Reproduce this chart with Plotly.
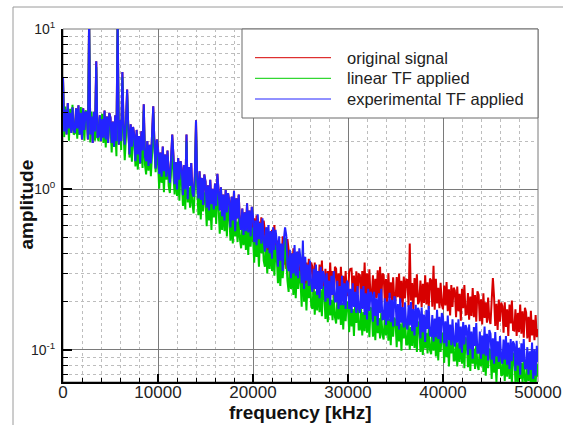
import plotly.graph_objects as go

# ---------------- data ----------------
freq_step = 125
frequency_khz = list(range(0, 50001, freq_step))  # 401 sample frequencies

experimental_tf = [
    5.0, 2.3, 3.15, 2.2, 3.45, 2.4, 3.0, 2.25, 3.25, 2.35,
    2.25, 3.2, 2.4, 3.35, 2.2, 3.0, 2.05, 3.2, 2.35, 3.05,
    3.0, 2.05, 12.0, 2.2, 2.85, 1.95, 3.05, 2.3, 6.3, 2.1,
    2.15, 2.9, 2.0, 2.75, 2.1, 3.1, 2.05, 2.85, 1.95, 3.0,
    2.8, 1.95, 2.65, 1.85, 2.9, 2.0, 12.0, 1.9, 2.7, 2.0,
    5.4, 2.5, 1.9, 2.65, 4.2, 2.4, 1.65, 2.55, 1.85, 2.45,
    2.2, 1.5, 2.35, 1.65, 2.15, 1.45, 2.3, 1.75, 3.4, 1.6,
    1.5, 2.0, 1.4, 1.9, 1.45, 2.2, 3.3, 1.95, 1.35, 2.05,
    1.8, 1.25, 1.7, 1.2, 1.85, 1.3, 1.65, 1.2, 1.75, 1.27,
    1.1, 1.55, 2.2, 1.62, 1.08, 1.48, 1.0, 1.57, 1.15, 1.5,
    1.35, 0.92, 1.42, 1.0, 2.2, 0.87, 1.38, 1.05, 1.46, 0.95,
    0.9, 1.21, 2.7, 1.15, 0.88, 1.3, 0.86, 1.18, 0.8, 1.24,
    1.12, 0.77, 1.06, 0.74, 1.15, 0.81, 1.01, 0.75, 1.09, 0.79,
    1.25, 0.98, 0.74, 1.03, 0.68, 0.93, 0.64, 0.99, 0.72, 0.95,
    0.85, 0.58, 0.9, 0.64, 0.98, 0.55, 0.88, 0.66, 0.93, 0.61,
    0.56, 0.76, 0.52, 0.72, 0.55, 0.82, 0.54, 0.74, 0.51, 0.78,
    0.68, 0.47, 0.64, 0.45, 0.7, 0.49, 0.62, 0.46, 0.66, 0.48,
    0.41, 0.58, 0.43, 0.6, 0.4, 0.55, 0.37, 0.58, 0.42, 0.56,
    0.48, 0.33, 0.51, 0.36, 0.46, 0.31, 0.49, 0.58, 0.52, 0.34,
    0.31, 0.42, 0.28, 0.4, 0.3, 0.45, 0.29, 0.41, 0.28, 0.43,
    0.37, 0.26, 0.48, 0.24, 0.38, 0.27, 0.34, 0.25, 0.36, 0.26,
    0.23, 0.32, 0.24, 0.34, 0.22, 0.31, 0.21, 0.33, 0.24, 0.31,
    0.29, 0.2, 0.3, 0.21, 0.27, 0.19, 0.29, 0.22, 0.31, 0.2,
    0.2, 0.27, 0.18, 0.25, 0.19, 0.29, 0.19, 0.26, 0.18, 0.27,
    0.26, 0.18, 0.24, 0.17, 0.26, 0.185, 0.23, 0.17, 0.25, 0.18,
    0.17, 0.24, 0.18, 0.25, 0.165, 0.225, 0.155, 0.24, 0.175, 0.23,
    0.22, 0.15, 0.23, 0.163, 0.21, 0.142, 0.225, 0.17, 0.24, 0.155,
    0.156, 0.21, 0.143, 0.2, 0.152, 0.227, 0.149, 0.205, 0.14, 0.216,
    0.205, 0.141, 0.193, 0.134, 0.21, 0.148, 0.185, 0.138, 0.198, 0.144,
    0.134, 0.19, 0.142, 0.199, 0.131, 0.18, 0.123, 0.191, 0.139, 0.183,
    0.173, 0.118, 0.184, 0.129, 0.166, 0.112, 0.178, 0.135, 0.188, 0.123,
    0.122, 0.165, 0.113, 0.157, 0.12, 0.178, 0.117, 0.161, 0.11, 0.17,
    0.16, 0.11, 0.151, 0.105, 0.164, 0.115, 0.144, 0.107, 0.155, 0.113,
    0.105, 0.148, 0.111, 0.155, 0.102, 0.14, 0.096, 0.149, 0.108, 0.143,
    0.136, 0.093, 0.144, 0.101, 0.13, 0.088, 0.139, 0.106, 0.147, 0.096,
    0.096, 0.13, 0.088, 0.123, 0.094, 0.14, 0.092, 0.126, 0.086, 0.133,
    0.126, 0.087, 0.118, 0.082, 0.129, 0.091, 0.113, 0.084, 0.122, 0.089,
    0.082, 0.116, 0.087, 0.122, 0.081, 0.111, 0.076, 0.117, 0.085, 0.113,
    0.108, 0.074, 0.114, 0.08, 0.103, 0.07, 0.11, 0.084, 0.117, 0.076,
    0.077, 0.104, 0.07, 0.098, 0.075, 0.111, 0.066, 0.101, 0.069, 0.106,
    0.084,
]

linear_tf = [
    4.8, 2.12, 3.29, 2.3, 2.97, 2.01, 3.18, 2.41, 3.37, 2.2,
    2.24, 3.03, 2.07, 2.88, 2.19, 3.26, 2.14, 2.96, 2.01, 3.11,
    2.99, 2.06, 11.0, 1.96, 3.06, 2.16, 2.7, 2.01, 5.8, 2.11,
    2.0, 2.82, 2.12, 2.96, 1.95, 2.68, 1.83, 2.84, 2.07, 2.73,
    2.48, 1.7, 2.63, 1.84, 2.37, 1.61, 11.0, 1.93, 2.69, 1.76,
    5.0, 2.24, 1.52, 2.12, 3.9, 2.41, 1.58, 2.18, 1.49, 2.29,
    2.03, 1.39, 1.91, 1.33, 2.08, 1.46, 1.83, 1.36, 3.1, 1.43,
    1.24, 1.75, 1.31, 1.84, 1.21, 1.66, 3.0, 1.77, 1.28, 1.69,
    1.47, 1.01, 1.56, 1.1, 1.41, 0.96, 1.51, 1.15, 1.6, 1.05,
    0.95, 1.29, 2.0, 1.22, 0.93, 1.38, 0.91, 1.25, 0.85, 1.32,
    1.15, 0.79, 1.08, 0.75, 2.0, 0.83, 1.03, 0.77, 1.11, 0.81,
    0.71, 1.0, 2.4, 1.05, 0.69, 0.95, 0.65, 1.0, 0.73, 0.96,
    0.87, 0.59, 0.92, 0.64, 0.83, 0.56, 0.89, 0.67, 0.94, 0.61,
    1.1, 0.77, 0.53, 0.73, 0.56, 0.83, 0.55, 0.75, 0.51, 0.79,
    0.7, 0.48, 0.66, 0.46, 0.72, 0.51, 0.63, 0.47, 0.68, 0.49,
    0.43, 0.6, 0.45, 0.63, 0.42, 0.57, 0.39, 0.61, 0.44, 0.58,
    0.51, 0.35, 0.54, 0.38, 0.49, 0.33, 0.52, 0.4, 0.55, 0.36,
    0.33, 0.44, 0.3, 0.42, 0.32, 0.47, 0.31, 0.43, 0.29, 0.45,
    0.38, 0.26, 0.36, 0.25, 0.39, 0.28, 0.35, 0.5, 0.37, 0.27,
    0.23, 0.32, 0.24, 0.34, 0.22, 0.31, 0.21, 0.33, 0.24, 0.31,
    0.27, 0.186, 0.42, 0.2, 0.26, 0.176, 0.28, 0.21, 0.29, 0.19,
    0.18, 0.244, 0.166, 0.232, 0.176, 0.262, 0.172, 0.238, 0.162, 0.25,
    0.227, 0.156, 0.214, 0.149, 0.233, 0.164, 0.205, 0.153, 0.219, 0.16,
    0.146, 0.206, 0.155, 0.217, 0.143, 0.196, 0.134, 0.208, 0.151, 0.2,
    0.188, 0.129, 0.2, 0.14, 0.18, 0.122, 0.193, 0.147, 0.204, 0.134,
    0.134, 0.181, 0.123, 0.172, 0.131, 0.195, 0.128, 0.176, 0.12, 0.185,
    0.176, 0.121, 0.166, 0.115, 0.18, 0.127, 0.158, 0.118, 0.17, 0.124,
    0.116, 0.164, 0.123, 0.173, 0.114, 0.156, 0.107, 0.166, 0.121, 0.159,
    0.152, 0.104, 0.161, 0.113, 0.146, 0.099, 0.156, 0.118, 0.165, 0.108,
    0.108, 0.146, 0.1, 0.139, 0.106, 0.157, 0.103, 0.143, 0.097, 0.15,
    0.142, 0.097, 0.133, 0.093, 0.145, 0.102, 0.128, 0.095, 0.137, 0.1,
    0.094, 0.132, 0.099, 0.139, 0.091, 0.125, 0.086, 0.133, 0.097, 0.128,
    0.122, 0.083, 0.129, 0.09, 0.116, 0.079, 0.125, 0.095, 0.132, 0.086,
    0.086, 0.117, 0.079, 0.111, 0.084, 0.125, 0.082, 0.114, 0.077, 0.12,
    0.113, 0.078, 0.107, 0.074, 0.116, 0.082, 0.102, 0.076, 0.11, 0.08,
    0.075, 0.106, 0.079, 0.111, 0.073, 0.1, 0.069, 0.106, 0.077, 0.102,
    0.097, 0.066, 0.103, 0.072, 0.093, 0.063, 0.1, 0.076, 0.105, 0.069,
    0.07, 0.094, 0.064, 0.089, 0.068, 0.101, 0.066, 0.092, 0.062, 0.096,
    0.092, 0.063, 0.086, 0.06, 0.094, 0.066, 0.083, 0.062, 0.089, 0.065,
    0.06, 0.085, 0.064, 0.089, 0.059, 0.081, 0.055, 0.086, 0.062, 0.082,
    0.068,
]

# original signal from 20000 kHz on (below that it lies under the processed curves)
original_tail = [
    0.47, 0.66, 0.5, 0.69, 0.46, 0.63, 0.43, 0.67, 0.48, 0.64,
    0.55, 0.38, 0.58, 0.41, 0.53, 0.36, 0.56, 0.43, 0.6, 0.39,
    0.35, 0.48, 0.32, 0.45, 0.34, 0.51, 0.34, 0.46, 0.32, 0.49,
    0.42, 0.29, 0.4, 0.28, 0.43, 0.3, 0.38, 0.28, 0.41, 0.3,
    0.26, 0.37, 0.27, 0.38, 0.25, 0.35, 0.24, 0.37, 0.27, 0.35,
    0.33, 0.22, 0.35, 0.24, 0.31, 0.21, 0.34, 0.25, 0.36, 0.23,
    0.24, 0.32, 0.22, 0.31, 0.23, 0.35, 0.23, 0.31, 0.21, 0.33,
    0.32, 0.22, 0.3, 0.21, 0.33, 0.23, 0.29, 0.21, 0.31, 0.225,
    0.217, 0.306, 0.32, 0.321, 0.212, 0.291, 0.199, 0.309, 0.224, 0.296,
    0.293, 0.2, 0.31, 0.218, 0.35, 0.19, 0.3, 0.228, 0.318, 0.208,
    0.216, 0.292, 0.198, 0.277, 0.211, 0.314, 0.206, 0.33, 0.194, 0.299,
    0.293, 0.202, 0.276, 0.192, 0.3, 0.211, 0.264, 0.197, 0.283, 0.206,
    0.201, 0.284, 0.213, 0.299, 0.197, 0.27, 0.185, 0.287, 0.209, 0.275,
    0.273, 0.186, 0.46, 0.203, 0.261, 0.177, 0.28, 0.212, 0.296, 0.193,
    0.201, 0.271, 0.185, 0.258, 0.196, 0.292, 0.192, 0.264, 0.18, 0.278,
    0.271, 0.186, 0.335, 0.178, 0.277, 0.195, 0.244, 0.182, 0.262, 0.191,
    0.179, 0.252, 0.189, 0.265, 0.174, 0.239, 0.164, 0.254, 0.185, 0.244,
    0.234, 0.16, 0.248, 0.174, 0.224, 0.152, 0.24, 0.182, 0.254, 0.166,
    0.167, 0.226, 0.154, 0.215, 0.163, 0.243, 0.16, 0.22, 0.15, 0.232,
    0.22, 0.151, 0.207, 0.144, 0.225, 0.158, 0.198, 0.148, 0.212, 0.155,
    0.145, 0.204, 0.28, 0.214, 0.141, 0.194, 0.133, 0.206, 0.15, 0.197,
    0.187, 0.128, 0.198, 0.139, 0.179, 0.122, 0.192, 0.146, 0.203, 0.133,
    0.132, 0.179, 0.122, 0.17, 0.129, 0.192, 0.126, 0.174, 0.119, 0.183,
    0.171, 0.118, 0.161, 0.112, 0.175, 0.123, 0.154, 0.115, 0.165, 0.12,
    0.135,
]
original_signal = experimental_tf[:160] + original_tail

series_names = ["original signal", "linear TF applied", "experimental TF applied"]
series_values = [original_signal, linear_tf, experimental_tf]
series_colors = ["rgb(215,0,0)", "rgb(0,205,0)", "rgb(35,35,255)"]

x_tick_vals = [0, 10000, 20000, 30000, 40000, 50000]
x_tick_text = ["0", "10000", "20000", "30000", "40000", "50000"]
y_tick_vals = [0.1, 1, 10]
y_tick_text = ["10<sup>-1</sup>", "10<sup>0</sup>", "10<sup>1</sup>"]
y_minor_vals = [0.07, 0.08, 0.09,
                0.2, 0.3, 0.4, 0.5, 0.6, 0.7, 0.8, 0.9,
                2, 3, 4, 5, 6, 7, 8, 9]

# ---------------- figure ----------------
W, H = 567, 425
ML, MR, MT, MB = 63, 29, 29, 43
PW, PH = W - ML - MR, H - MT - MB


def px_x(p):
    return (p - ML) / PW


def px_y(p):
    return (H - MB - p) / PH


FONT = "Arial, 'Liberation Sans', sans-serif"

fig = go.Figure()
for name, vals, col in zip(series_names, series_values, series_colors):
    fig.add_trace(go.Scatter(
        x=frequency_khz, y=vals, mode="lines", name=name,
        line=dict(color=col, width=2, simplify=False), showlegend=False,
    ))

fig.update_layout(
    width=W, height=H,
    margin=dict(l=ML, r=MR, t=MT, b=MB, pad=0),
    paper_bgcolor="white", plot_bgcolor="white",
    font=dict(family=FONT, color="#222"),
    showlegend=False,
)

fig.update_xaxes(
    range=[0, 50000], tickmode="array", tickvals=x_tick_vals, ticktext=x_tick_text,
    ticks="inside", ticklen=8, tickwidth=2, tickcolor="black",
    showline=True, linewidth=2, linecolor="black",
    showgrid=True, gridcolor="#7a7a7a", gridwidth=1, zeroline=False,
    tickfont=dict(size=17, color="#222"), ticklabelstandoff=-6,
    minor=dict(tick0=0, dtick=2000, ticks="inside", ticklen=4, tickwidth=1,
               tickcolor="black", showgrid=True, gridcolor="#bdbdbd",
               griddash="dot", gridwidth=1),
    automargin=False,
)
fig.update_yaxes(
    type="log", range=[-1.2, 1], tickmode="array",
    tickvals=y_tick_vals, ticktext=y_tick_text,
    ticks="inside", ticklen=9, tickwidth=2, tickcolor="black",
    showline=True, linewidth=2, linecolor="black",
    showgrid=True, gridcolor="#7a7a7a", gridwidth=1, zeroline=False,
    tickfont=dict(size=14, color="#222"), ticklabelstandoff=3,
    minor=dict(tickmode="array", tickvals=y_minor_vals, ticks="inside",
               ticklen=5, tickwidth=1, tickcolor="black", showgrid=True,
               gridcolor="#bdbdbd", griddash="dot", gridwidth=1),
    automargin=False,
)

shapes = []
# outer frame lines of the original figure (top and left)
shapes.append(dict(type="line", xref="paper", yref="paper",
                   x0=px_x(13), x1=px_x(563), y0=px_y(7), y1=px_y(7),
                   line=dict(color="#9a9a9a", width=1)))
shapes.append(dict(type="line", xref="paper", yref="paper",
                   x0=px_x(13), x1=px_x(13), y0=px_y(7), y1=px_y(425),
                   line=dict(color="#9a9a9a", width=1)))
# plot frame (top / right)
shapes.append(dict(type="rect", xref="paper", yref="paper",
                   x0=0, x1=1, y0=0, y1=1, layer="below",
                   line=dict(color="#7a7a7a", width=1)))
# legend box
shapes.append(dict(type="rect", xref="paper", yref="paper",
                   x0=px_x(242), x1=px_x(538), y0=px_y(118), y1=px_y(29),
                   fillcolor="white", layer="above",
                   line=dict(color="#6a6a6a", width=1)))

annotations = []
row_y = [57.7, 78.3, 99.0]
for name, col, ry in zip(series_names, series_colors, row_y):
    shapes.append(dict(type="line", xref="paper", yref="paper",
                       x0=px_x(255), x1=px_x(331), y0=px_y(ry), y1=px_y(ry),
                       layer="above", line=dict(color=col, width=1)))
    annotations.append(dict(xref="paper", yref="paper", x=px_x(345), y=px_y(ry),
                            xanchor="left", yanchor="middle", showarrow=False,
                            text=name, font=dict(size=16.5, color="#222", family=FONT)))

# axis titles
annotations.append(dict(xref="paper", yref="paper", x=px_x(300.5), y=px_y(412),
                        xanchor="center", yanchor="middle", showarrow=False,
                        text="<b>frequency [kHz]</b>",
                        font=dict(size=19, color="#111", family=FONT)))
annotations.append(dict(xref="paper", yref="paper", x=px_x(25.5), y=px_y(205),
                        xanchor="center", yanchor="middle", showarrow=False,
                        textangle=-90, text="<b>amplitude</b>",
                        font=dict(size=19, color="#111", family=FONT)))

fig.update_layout(shapes=shapes, annotations=annotations)

fig.write_html("out.html")
